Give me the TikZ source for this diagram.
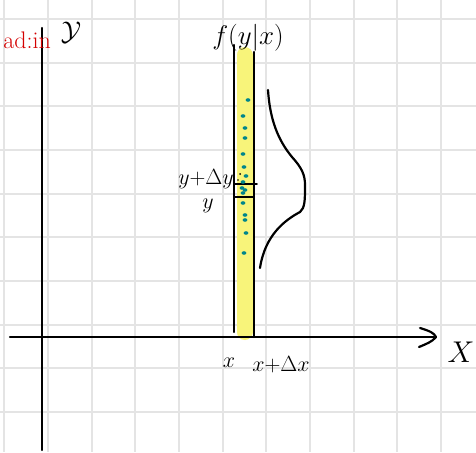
\RequirePackage{fix-cm}
\documentclass[tikz,border=0pt]{standalone}
\usetikzlibrary{arrows.meta}
\definecolor{gridgray}{HTML}{E4E4E4}
\definecolor{hiyellow}{HTML}{F8F47A}
\definecolor{dotteal}{HTML}{00868B}
\definecolor{inkred}{HTML}{D40000}
\begin{document}
\begin{tikzpicture}[x=1pt,y=-1pt,
  ink/.style={draw=black,line width=2.2pt,line cap=round},
  gridline/.style={draw=gridgray,line width=1.6pt},
  lbl/.style={font=\fontsize{22}{24}\selectfont,inner sep=0pt},
  biglbl/.style={font=\fontsize{27}{29}\selectfont,inner sep=0pt},
  redlbl/.style={text=inkred,font=\fontsize{24}{26}\selectfont,inner sep=0pt},
  dotpt/.style={fill=dotteal,draw=none}]
\useasboundingbox (0,0) rectangle (476,452);
\fill[white] (0,0) rectangle (476,452);
% grid
\foreach \gx in {4,48,92,135,179,223,266,310,354,397,441}
  \draw[gridline] (\gx,0) -- (\gx,452);
\foreach \gy in {19,63,106,150,194,237,281,325,368,412}
  \draw[gridline] (0,\gy) -- (476,\gy);
% yellow band
\draw[hiyellow,line width=16pt,line cap=round] (244.5,55) -- (244.5,332);
% axes
\draw[ink] (42,28) -- (42,450);
\draw[ink] (10,337) -- (434,337);
\draw[ink,line join=round] (420,328) .. controls (430,331) and (434,333) .. (436,337) .. controls (432,342) and (426,344) .. (419,347);
% strip lines
\draw[ink] (234,45) -- (234,332);
\draw[ink] (254,52) -- (254,337);
\draw[ink,line width=1.8pt] (234,184) -- (257,184);
\draw[ink,line width=1.8pt] (234,197) -- (253,197);
% dots
\foreach \px/\py in {248/100,243/116,245/128,245/138,243/154,244/167,246/176,243/182,242/188,243/193,245/190,243/203,245/215,245/220,246/233,244/253}
  \fill[dotpt] (\px,\py) ellipse (2.4 and 1.8);
\fill (240,174) circle (1);
\fill (238,180) circle (0.8);
% density curve
\draw[ink] (268,90) .. controls (270,120) and (278,140) .. (292,157)
  .. controls (302,168) and (305,175) .. (305,185)
  .. controls (305,200) and (305,208) .. (300,212)
  .. controls (285,220) and (265,235) .. (260,268);
% labels
\node[biglbl] (fy) at (248,38) {$f(y|x)$};
\node[biglbl] (yax) at (71,33) {$\mathcal{Y}$};
\node[redlbl,anchor=east] (red) at (51,40) {ad:in};
\node[lbl] (ydy) at (206,179) {$y{+}\Delta y$};
\node[lbl] (yl) at (208,206) {$y$};
\node[lbl] (xl) at (229,363) {$x$};
\node[lbl] (xdx) at (281,365) {$x{+}\Delta x$};
\node[lbl,font=\fontsize{30}{32}\selectfont] (XX) at (461,352) {$X$};
\end{tikzpicture}
\end{document}
